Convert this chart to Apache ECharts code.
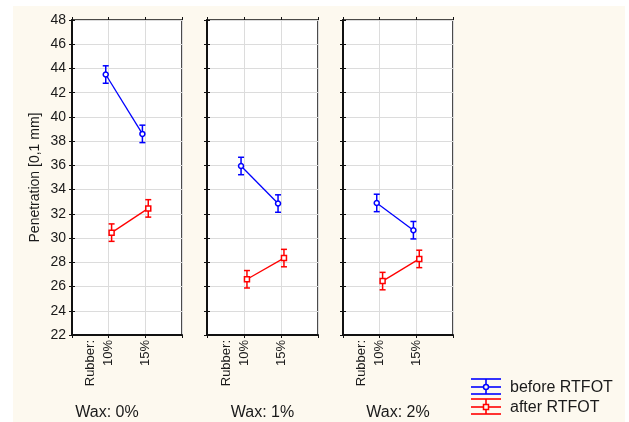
<!DOCTYPE html>
<html>
<head>
<meta charset="utf-8">
<script src="https://cdn.jsdelivr.net/npm/echarts@6/dist/echarts.min.js"></script>
<style>
html,body{margin:0;padding:0;background:#ffffff;}
#bg{position:absolute;left:13px;top:6px;width:612px;height:416px;background:#fdf9ef;}
#chart{position:absolute;left:0;top:0;width:629px;height:422px;}
</style>
</head>
<body>
<div id="bg"></div>
<div id="chart"></div>
<script>
// ---- data ----
const rubberLevels = ['10%', '15%'];
const waxLabels = ['Wax: 0%', 'Wax: 1%', 'Wax: 2%'];
const beforeRTFOT = [[43.5, 38.6], [35.95, 32.85], [32.9, 30.65]];
const afterRTFOT = [[30.45, 32.45], [26.6, 28.35], [26.45, 28.28]];
const beforeErr = [[0.72, 0.72], [0.72, 0.72], [0.72, 0.72]];
const afterErr = [[0.72, 0.72], [0.72, 0.72], [0.72, 0.72]];
const yMin = 22, yMax = 48, yStep = 2;
const seriesNames = ['before RTFOT', 'after RTFOT'];

// ---- style ----
const BLUE = '#0000ff', RED = '#ff0000';
const FONT = 'Liberation Sans, Arial, sans-serif';
const TXT = '#1a1a1a';
const gridsPos = [
  {left: 72, width: 110},
  {left: 207, width: 111},
  {left: 343, width: 110}
];
const TOP = 20, HEIGHT = 315;
const jitter = {before: -0.08, after: 0.08};
const waxPad = [[0, 40, 0, 0], [0, 0, 0, 0], [0, 0, 0, 0]];

const grid = [], xAxis = [], yAxis = [], series = [];

function errSeries(name, color, pts, xi, yi) {
  return {
    type: 'custom', name: name, xAxisIndex: xi, yAxisIndex: yi, z: 5,
    data: pts,
    renderItem: function (params, api) {
      const x = api.value(0), lo = api.value(1), hi = api.value(2);
      const p1 = api.coord([x, hi]), p2 = api.coord([x, lo]);
      const cw = 3;
      const st = {stroke: color, lineWidth: 1.5};
      return {type: 'group', children: [
        {type: 'line', shape: {x1: p1[0], y1: p1[1], x2: p2[0], y2: p2[1]}, style: st},
        {type: 'line', shape: {x1: p1[0] - cw, y1: p1[1], x2: p1[0] + cw, y2: p1[1]}, style: st},
        {type: 'line', shape: {x1: p2[0] - cw, y1: p2[1], x2: p2[0] + cw, y2: p2[1]}, style: st}
      ]};
    }
  };
}

for (let g = 0; g < 3; g++) {
  grid.push({left: gridsPos[g].left, width: gridsPos[g].width, top: TOP, height: HEIGHT,
    outerBoundsMode: 'none', containLabel: false,
    show: true, borderColor: '#111', borderWidth: 1.5, backgroundColor: '#ffffff'});
  const xb = g * 2, yb = g * 2;
  xAxis.push({
    type: 'value', gridIndex: g, min: 0, max: 3, interval: 1, position: 'bottom',
    axisLine: {lineStyle: {color: '#111', width: 2}},
    axisTick: {show: true, length: 3, lineStyle: {color: '#111'}},
    splitLine: {show: true, lineStyle: {color: '#dcdcdc', width: 1}},
    axisLabel: {
      rotate: 90, margin: 5, color: TXT, fontFamily: FONT, fontSize: 13, lineHeight: 18,
      formatter: function (v) {
        if (v === 1) return 'Rubber:\n' + rubberLevels[0] + '\n\u00a0';
        if (v === 2) return rubberLevels[1];
        return '';
      }
    },
    name: waxLabels[g], nameLocation: 'middle', nameGap: 70,
    nameTextStyle: {color: TXT, fontFamily: FONT, fontSize: 16, padding: waxPad[g]}
  });
  xAxis.push({
    type: 'value', gridIndex: g, min: 0, max: 3, interval: 1, position: 'top',
    axisLine: {show: false}, axisLabel: {show: false}, splitLine: {show: false},
    axisTick: {show: true, length: 3, lineStyle: {color: '#111'}}
  });
  yAxis.push({
    type: 'value', gridIndex: g, min: yMin, max: yMax, interval: yStep, position: 'left',
    axisLine: {show: true, lineStyle: {color: '#111', width: 2}},
    axisTick: {show: true, length: 3, lineStyle: {color: '#111'}},
    splitLine: {show: true, lineStyle: {color: '#dcdcdc', width: 1}},
    axisLabel: {show: g === 0, margin: 6, color: TXT, fontFamily: FONT, fontSize: 14},
    name: g === 0 ? 'Penetration [0,1 mm]' : '', nameLocation: 'middle', nameGap: 30,
    nameTextStyle: {color: TXT, fontFamily: FONT, fontSize: 14}
  });
  yAxis.push({
    type: 'value', gridIndex: g, min: yMin, max: yMax, interval: yStep, position: 'right',
    axisLine: {show: false}, axisLabel: {show: false}, splitLine: {show: false},
    axisTick: {show: true, length: 3, lineStyle: {color: '#111'}}
  });

  const bPts = beforeRTFOT[g].map((v, i) => [i + 1 + jitter.before, v]);
  const aPts = afterRTFOT[g].map((v, i) => [i + 1 + jitter.after, v]);
  series.push({
    type: 'line', name: seriesNames[0], xAxisIndex: xb, yAxisIndex: yb, data: bPts,
    symbol: 'circle', symbolSize: 5, showSymbol: true, z: 6,
    lineStyle: {color: BLUE, width: 1.3},
    itemStyle: {color: '#ffffff', borderColor: BLUE, borderWidth: 1.5}
  });
  series.push({
    type: 'line', name: seriesNames[1], xAxisIndex: xb, yAxisIndex: yb, data: aPts,
    symbol: 'rect', symbolSize: 5, showSymbol: true, z: 6,
    lineStyle: {color: RED, width: 1.3},
    itemStyle: {color: '#ffffff', borderColor: RED, borderWidth: 1.5}
  });
  series.push(errSeries(seriesNames[0], BLUE,
    beforeRTFOT[g].map((v, i) => [i + 1 + jitter.before, v - beforeErr[g][i], v + beforeErr[g][i]]), xb, yb));
  series.push(errSeries(seriesNames[1], RED,
    afterRTFOT[g].map((v, i) => [i + 1 + jitter.after, v - afterErr[g][i], v + afterErr[g][i]]), xb, yb));
}

function legendIcon(cy, color, marker) {
  const x1 = 471, x2 = 501, cx = 486;
  const st = {stroke: color, lineWidth: 1.6};
  const ch = [
    {type: 'line', shape: {x1: x1, y1: cy - 8, x2: x2, y2: cy - 8}, style: st},
    {type: 'line', shape: {x1: x1, y1: cy, x2: x2, y2: cy}, style: st},
    {type: 'line', shape: {x1: x1, y1: cy + 7, x2: x2, y2: cy + 7}, style: st},
    {type: 'line', shape: {x1: cx, y1: cy - 8, x2: cx, y2: cy + 7}, style: st}
  ];
  if (marker === 'circle') ch.push({type: 'circle', shape: {cx: cx, cy: cy, r: 2.5}, style: {fill: '#fdf9ef', stroke: color, lineWidth: 1.5}});
  else ch.push({type: 'rect', shape: {x: cx - 2.5, y: cy - 2.5, width: 5, height: 5}, style: {fill: '#fdf9ef', stroke: color, lineWidth: 1.5}});
  return ch;
}

const graphic = [].concat(
  legendIcon(387, BLUE, 'circle'),
  legendIcon(407, RED, 'rect'),
  [
    {type: 'text', left: 510, top: 380, style: {text: seriesNames[0], fill: TXT, font: '16px ' + FONT}},
    {type: 'text', left: 510, top: 400, style: {text: seriesNames[1], fill: TXT, font: '16px ' + FONT}}
  ]
);

const chart = echarts.init(document.getElementById('chart'), null, {renderer: 'canvas'});
chart.setOption({
  backgroundColor: 'transparent',
  animation: false,
  grid: grid, xAxis: xAxis, yAxis: yAxis, series: series,
  graphic: graphic
});
</script>
</body>
</html>
